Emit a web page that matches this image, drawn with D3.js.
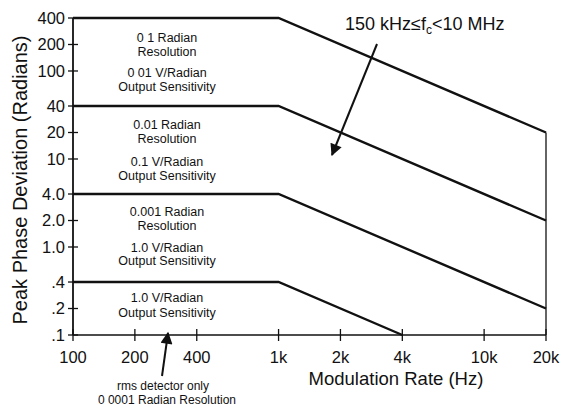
<!DOCTYPE html>
<html><head><meta charset="utf-8">
<script src="https://cdn.jsdelivr.net/npm/d3@7"></script>
<style>
body{margin:0;background:#fff;}
text{font-family:"Liberation Sans",Arial,sans-serif;fill:#111;}
</style></head>
<body>
<svg id="c" width="563" height="408"></svg>
<script>
const xTicks=[100,200,400,1000,2000,4000,10000,20000];
const xTickLabels=["100","200","400","1k","2k","4k","10k","20k"];
const yTicks=[0.1,0.2,0.4,1,2,4,10,20,40,100,200,400];
const yTickLabels=[".1",".2",".4","1.0","2.0","4.0","10","20","40","100","200","400"];
const series1=[[100,400],[1000,400],[20000,20]];
const series2=[[100,40],[1000,40],[20000,2]];
const series3=[[100,4],[1000,4],[20000,0.2]];
const series4=[[100,0.4],[1000,0.4],[4000,0.1]];
const labels1=["0 1 Radian","Resolution","0 01 V/Radian","Output Sensitivity"];
const labels2=["0.01 Radian","Resolution","0.1 V/Radian","Output Sensitivity"];
const labels3=["0.001 Radian","Resolution","1.0 V/Radian","Output Sensitivity"];
const labels4=["1.0 V/Radian","Output Sensitivity"];

const svg=d3.select("#c");
const x=d3.scaleLog().domain([100,20000]).range([73,546]);
const y=d3.scaleLog().domain([0.1,400]).range([335,18]);

const ax=svg.append("g").attr("stroke","#111").attr("fill","none");
ax.append("line").attr("x1",x(100)).attr("x2",x(100)).attr("y1",y(400)).attr("y2",y(0.1)).attr("stroke-width",1.8);
ax.append("line").attr("x1",x(100)).attr("x2",x(20000)).attr("y1",y(0.1)).attr("y2",y(0.1)).attr("stroke-width",1.5);
ax.append("line").attr("x1",x(20000)).attr("x2",x(20000)).attr("y1",y(20)).attr("y2",y(0.1)).attr("stroke-width",1.3);
yTicks.forEach(v=>{
  ax.append("line").attr("x1",x(100)-5).attr("x2",x(100)+5).attr("y1",y(v)).attr("y2",y(v)).attr("stroke-width",1.3);
});
xTicks.forEach(v=>{
  ax.append("line").attr("x1",x(v)).attr("x2",x(v)).attr("y1",y(0.1)-6).attr("y2",y(0.1)+6).attr("stroke-width",1.3);
});
svg.selectAll(".yl").data(yTicks).enter().append("text")
  .attr("x",x(100)-8).attr("y",d=>y(d)).attr("dy","0.36em").attr("text-anchor","end")
  .attr("font-size",16.5).text((d,i)=>yTickLabels[i]);
svg.selectAll(".xl").data(xTicks).enter().append("text")
  .attr("x",d=>x(d)).attr("y",y(0.1)+28).attr("text-anchor","middle")
  .attr("font-size",16.5).text((d,i)=>xTickLabels[i]);

const line=d3.line().x(d=>x(d[0])).y(d=>y(d[1]));
[series1,series2,series3,series4].forEach(s=>{
  svg.append("path").attr("d",line(s)).attr("fill","none").attr("stroke","#111").attr("stroke-width",2.4);
});

function block(lines,ys){
  lines.forEach((t,i)=>svg.append("text").attr("x",167).attr("y",ys[i]).attr("text-anchor","middle").attr("font-size",12.5).text(t));
}
block(labels1,[42,56,77,91]);
block(labels2,[129,143,166,180]);
block(labels3,[216,230,252,265]);
block(labels4,[302,317]);

svg.append("text").attr("transform","translate(27,180) rotate(-90)").attr("text-anchor","middle").attr("font-size",20).text("Peak Phase Deviation (Radians)");
svg.append("text").attr("x",396).attr("y",385).attr("text-anchor","middle").attr("font-size",18.5).text("Modulation Rate (Hz)");
svg.append("text").attr("x",163).attr("y",390).attr("text-anchor","middle").attr("font-size",12).text("rms detector only");
svg.append("text").attr("x",167).attr("y",404).attr("text-anchor","middle").attr("font-size",12).text("0 0001 Radian Resolution");

const t=svg.append("text").attr("x",345).attr("y",30).attr("font-size",18);
t.append("tspan").text("150 kHz≤f");
t.append("tspan").attr("font-size",12).attr("dy",4).text("c");
t.append("tspan").attr("dy",-4).text("<10 MHz");

const defs=svg.append("defs");
defs.append("marker").attr("id","ah").attr("viewBox","0 0 10 10").attr("refX",9).attr("refY",5)
  .attr("markerWidth",16).attr("markerHeight",12).attr("markerUnits","userSpaceOnUse").attr("orient","auto")
  .append("path").attr("d","M0,0 L10,5 L0,10 z").attr("fill","#111");
svg.append("line").attr("x1",377).attr("y1",44).attr("x2",332).attr("y2",155).attr("stroke","#111").attr("stroke-width",2).attr("marker-end","url(#ah)");
svg.append("line").attr("x1",162).attr("y1",376).attr("x2",168).attr("y2",333).attr("stroke","#111").attr("stroke-width",2).attr("marker-end","url(#ah)");
</script>
</body></html>
